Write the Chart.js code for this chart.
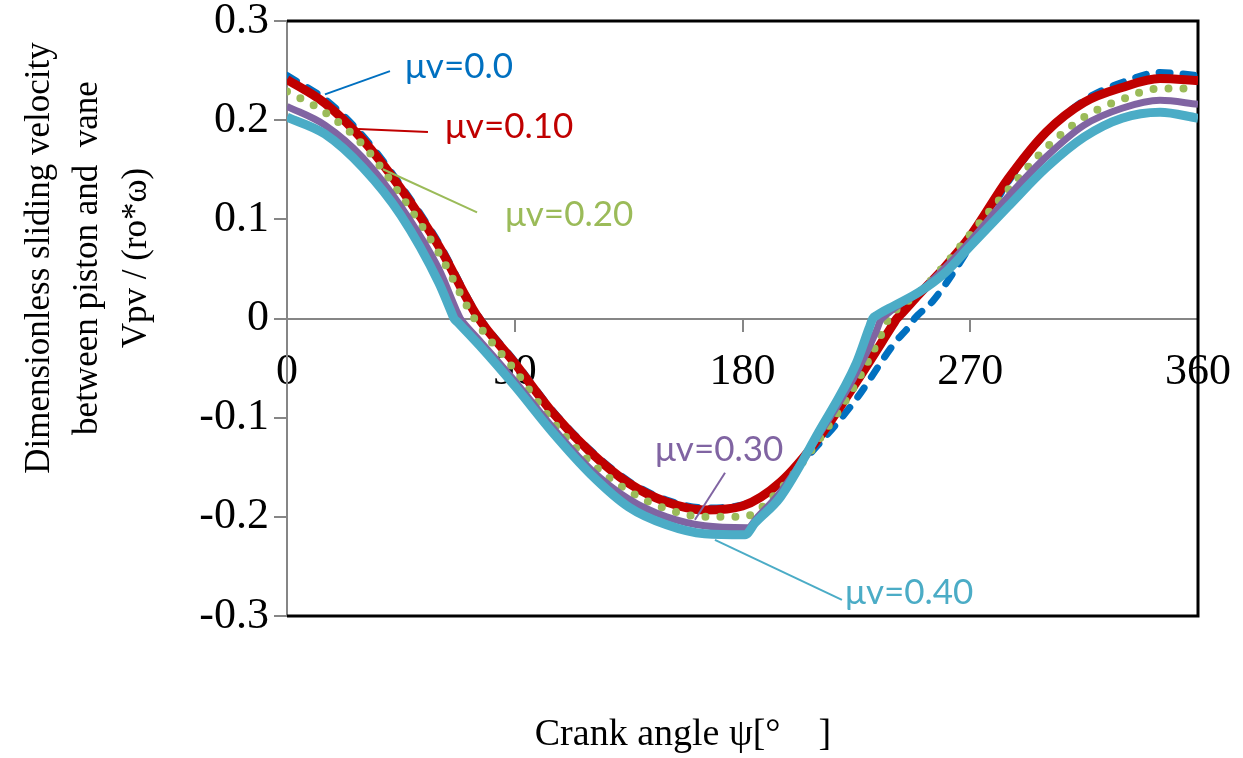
<!DOCTYPE html>
<html><head><meta charset="utf-8">
<script src="https://cdn.jsdelivr.net/npm/chart.js@4.4.1/dist/chart.umd.min.js"></script>
<style>html,body{margin:0;padding:0;background:#fff;}canvas{display:block;}</style>
</head><body>
<canvas id="c" width="1243" height="758"></canvas>
<script>
// ---- data ----
const seriesNames = ['μv=0.0','μv=0.10','μv=0.20','μv=0.30','μv=0.40'];
const xTicks = [0, 90, 180, 270, 360];
const xTickLabels = ['0', '90', '180', '270', '360'];
const yTicks = [-0.3, -0.2, -0.1, 0, 0.1, 0.2, 0.3];
const yTickLabels = ['-0.3', '-0.2', '-0.1', '0', '0.1', '0.2', '0.3'];

const angMu00 = [0,15,30,45,60,75,90,105,120,135,150,165,180,195,210,225,240,246.5,248,249.5,255,270,285,300,315,330,345,360];
const velMu00 = [0.245,0.221,0.184,0.134,0.076,0.005,-0.043,-0.093,-0.133,-0.164,-0.183,-0.191,-0.188,-0.166,-0.127,-0.081,-0.025,-0.006,0.000,0.004,0.017,0.073,0.138,0.187,0.220,0.238,0.248,0.245];

const angMu10 = [0,15,30,45,60,75,90,105,120,135,150,165,180,195,210,225,239.5,241,242.5,250,260,270,285,300,315,330,345,360];
const velMu10 = [0.241,0.217,0.180,0.131,0.073,0.003,-0.045,-0.095,-0.135,-0.166,-0.185,-0.193,-0.189,-0.165,-0.121,-0.064,-0.006,0.000,0.004,0.025,0.052,0.083,0.141,0.188,0.218,0.233,0.242,0.240];

const angMu20 = [0,15,30,45,60,74,90,105,120,135,150,165,180,195,210,225,236.5,238,239.5,250,260,270,285,300,315,330,345,360];
const velMu20 = [0.229,0.208,0.175,0.124,0.066,0.000,-0.052,-0.104,-0.145,-0.174,-0.192,-0.200,-0.200,-0.172,-0.123,-0.065,-0.007,0.002,0.006,0.027,0.054,0.085,0.130,0.172,0.203,0.221,0.232,0.232];

const angMu30 = [0,15,30,45,60,67,68.5,70,76,90,105,120,135,150,165,182,186,195,210,225,233,234.5,236,242,250,270,285,300,315,330,345,360];
const velMu30 = [0.214,0.195,0.162,0.113,0.050,0.008,0.000,-0.005,-0.022,-0.063,-0.110,-0.152,-0.182,-0.200,-0.209,-0.211,-0.200,-0.175,-0.118,-0.055,-0.012,-0.002,0.002,0.014,0.027,0.078,0.123,0.163,0.195,0.212,0.220,0.216];

const angMu40 = [0,15,30,45,60,64.5,66,67.5,76,90,105,120,135,150,165,181,185,195,210,225,230,231.5,233,240,250,260,270,285,300,315,330,345,360];
const velMu40 = [0.203,0.186,0.152,0.104,0.036,0.009,0.000,-0.004,-0.027,-0.068,-0.115,-0.157,-0.190,-0.208,-0.217,-0.218,-0.206,-0.180,-0.115,-0.045,-0.010,0.000,0.003,0.013,0.027,0.046,0.073,0.113,0.152,0.183,0.202,0.208,0.202];

// ---- build ----
const colors = ['#0070C0','#C00000','#9BBB59','#8064A2','#4BACC6'];
function pts(a, v){ return a.map((x,i)=>({x:x, y:v[i]})); }

const SERIF = '"Liberation Serif", "Times New Roman", serif';
const SANS = 'Lato, "Open Sans", sans-serif';

const base = {pointRadius:0, fill:false, cubicInterpolationMode:'monotone', borderJoinStyle:'round'};
const datasets = [
  Object.assign({}, base, {label:seriesNames[0], data:pts(angMu00, velMu00), borderColor:colors[0], borderWidth:7, borderDash:[11,13], borderCapStyle:'round', order:5}),
  Object.assign({}, base, {label:seriesNames[1], data:pts(angMu10, velMu10), borderColor:colors[1], borderWidth:9, order:4}),
  Object.assign({}, base, {label:seriesNames[2], data:pts(angMu20, velMu20), borderColor:colors[2], borderWidth:8, borderDash:[0,15], borderCapStyle:'round', order:3}),
  Object.assign({}, base, {label:seriesNames[3], data:pts(angMu30, velMu30), borderColor:colors[3], borderWidth:7, order:2}),
  Object.assign({}, base, {label:seriesNames[4], data:pts(angMu40, velMu40), borderColor:colors[4], borderWidth:9, order:1})
];

const framePlugin = {
  id:'frame',
  beforeDatasetsDraw(chart){
    const {ctx, chartArea:{left,right,top,bottom}} = chart;
    ctx.save();
    ctx.strokeStyle = '#000'; ctx.lineWidth = 3;
    ctx.beginPath();
    ctx.moveTo(left, top); ctx.lineTo(right, top); ctx.lineTo(right, bottom); ctx.lineTo(left, bottom);
    ctx.stroke();
    ctx.restore();
  }
};

const annots = [
  {i:0, tx:46.6, ty:0.2535, x1:40.7, y1:0.2495, x2:15.0, y2:0.226},
  {i:1, tx:62.4, ty:0.193, x1:55.7, y1:0.188, x2:28.1, y2:0.191},
  {i:2, tx:86.1, ty:0.105, x1:75.1, y1:0.107, x2:37.9, y2:0.1505},
  {i:3, tx:145.4, ty:-0.1323, x1:173.1, y1:-0.1556, x2:161.2, y2:-0.203},
  {i:4, tx:220.5, ty:-0.2768, x1:169.1, y1:-0.2232, x2:219.3, y2:-0.2838}
];
const annotPlugin = {
  id:'annot',
  afterDatasetsDraw(chart){
    const {ctx, scales:{x, y}} = chart;
    ctx.save();
    annots.forEach(a => {
      ctx.strokeStyle = colors[a.i]; ctx.lineWidth = 2;
      ctx.beginPath();
      ctx.moveTo(x.getPixelForValue(a.x1), y.getPixelForValue(a.y1));
      ctx.lineTo(x.getPixelForValue(a.x2), y.getPixelForValue(a.y2));
      ctx.stroke();
      ctx.fillStyle = colors[a.i];
      ctx.font = '35px ' + SANS;
      ctx.textAlign = 'left'; ctx.textBaseline = 'middle';
      ctx.fillText(seriesNames[a.i], x.getPixelForValue(a.tx), y.getPixelForValue(a.ty));
    });
    ctx.restore();
  }
};

const titlePlugin = {
  id:'titles',
  afterDraw(chart){
    const {ctx} = chart;
    ctx.save();
    ctx.fillStyle = '#000';
    ctx.font = '35px ' + SERIF;
    ctx.textAlign = 'center'; ctx.textBaseline = 'middle';
    const lines = ['Dimensionless sliding velocity', 'between piston and  vane', 'Vpv / (ro*ω)'];
    const xs = [40, 88, 137];
    lines.forEach((t, k) => {
      ctx.save();
      ctx.translate(xs[k], 258);
      ctx.rotate(-Math.PI/2);
      ctx.fillText(t, 0, 0);
      ctx.restore();
    });
    ctx.font = '38px ' + SERIF;
    ctx.fillText('Crank angle ψ[°\u3000]', 683, 735);
    ctx.restore();
  }
};

new Chart(document.getElementById('c'), {
  type:'line',
  data:{datasets},
  options:{
    responsive:false, animation:false, devicePixelRatio:1,
    layout:{padding:{left:0, right:45, top:21, bottom:142}},
    plugins:{legend:{display:false}, tooltip:{enabled:false}},
    scales:{
      x:{
        type:'linear', min:0, max:360, position:{y:0},
        afterFit(s){ s.height = 0; s.paddingLeft = 0; s.paddingRight = 0; },
        border:{display:true, color:'#868686', width:2},
        grid:{drawOnChartArea:false, drawTicks:true, tickLength:12, color:'#868686', lineWidth:2},
        afterBuildTicks(s){ s.ticks = xTicks.map(v => ({value:v})); },
        ticks:{padding:16, color:'#000', maxRotation:0, autoSkip:false,
          font:{family:SERIF, size:44},
          callback(v){ const k = xTicks.indexOf(v); return k >= 0 ? xTickLabels[k] : ''; }}
      },
      y:{
        type:'linear', min:-0.3, max:0.3,
        afterFit(s){ s.width = 287; s.paddingTop = 0; s.paddingBottom = 0; },
        border:{display:true, color:'#868686', width:2},
        grid:{drawOnChartArea:false, drawTicks:true, tickLength:13, color:'#868686', lineWidth:2},
        afterBuildTicks(s){ s.ticks = yTicks.map(v => ({value:v})); },
        ticks:{padding:5, color:'#000', font:{family:SERIF, size:44},
          callback(v){ const k = yTicks.findIndex(t => Math.abs(t - v) < 1e-9); return k >= 0 ? yTickLabels[k] : ''; }}
      }
    }
  },
  plugins:[framePlugin, annotPlugin, titlePlugin]
});
</script>
</body></html>
